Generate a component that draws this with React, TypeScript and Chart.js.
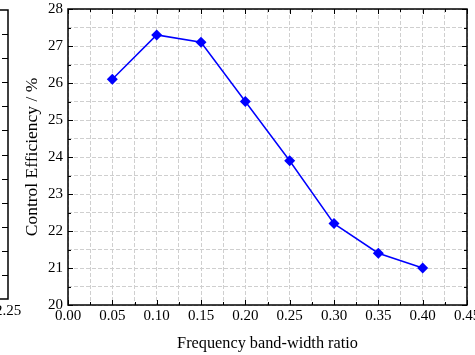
import React, { useEffect, useRef } from "react";
import { Chart, registerables } from "chart.js";

Chart.register(...registerables);

const ratios = [0.05, 0.1, 0.15, 0.2, 0.25, 0.3, 0.35, 0.4];
const efficiency = [26.1, 27.3, 27.1, 25.5, 23.9, 22.2, 21.4, 21.0];
const xTitle = "Frequency band-width ratio";
const yTitle = "Control Efficiency / %";
const fragmentLabel = "2.25";

const FONT = "'Liberation Serif', 'Times New Roman', serif";

const framePlugin = {
  id: "frame",
  beforeDraw(chart: any) {
    const ctx = chart.ctx;
    // neighbouring chart fragment on the left edge
    ctx.save();
    ctx.strokeStyle = "#000";
    ctx.lineWidth = 1.5;
    const top = 10;
    const bottom = 299;
    const x = 8;
    ctx.beginPath();
    ctx.moveTo(0, top);
    ctx.lineTo(x, top);
    ctx.lineTo(x, bottom);
    ctx.lineTo(0, bottom);
    ctx.stroke();
    ctx.lineWidth = 1;
    const step = (bottom - top) / 12;
    for (let k = 1; k < 12; k++) {
      const y = Math.round(top + step * k) + 0.5;
      ctx.beginPath();
      ctx.moveTo(2, y);
      ctx.lineTo(x, y);
      ctx.stroke();
    }
    ctx.fillStyle = "#000";
    ctx.font = `15px ${FONT}`;
    ctx.textAlign = "center";
    ctx.textBaseline = "middle";
    ctx.fillText(fragmentLabel, x, 311);
    ctx.restore();
  },
  afterDatasetsDraw(chart: any) {
    const { ctx, chartArea } = chart;
    const { left, right, top, bottom } = chartArea;
    ctx.save();
    ctx.strokeStyle = "#000";
    ctx.lineWidth = 1;
    const xs = chart.scales.x;
    xs.ticks.forEach((t: any) => {
      const px = Math.round(xs.getPixelForValue(t.value)) + 0.5;
      const major = Math.abs(Math.round(t.value * 1000) % 50) === 0;
      const len = major ? 5 : 3;
      ctx.beginPath();
      ctx.moveTo(px, bottom);
      ctx.lineTo(px, bottom - len);
      ctx.moveTo(px, top);
      ctx.lineTo(px, top + len);
      ctx.stroke();
    });
    const ys = chart.scales.y;
    ys.ticks.forEach((t: any) => {
      const py = Math.round(ys.getPixelForValue(t.value)) + 0.5;
      const major = Math.abs(t.value - Math.round(t.value)) < 1e-6;
      const len = major ? 5 : 3;
      ctx.beginPath();
      ctx.moveTo(left, py);
      ctx.lineTo(left + len, py);
      ctx.moveTo(right, py);
      ctx.lineTo(right - len, py);
      ctx.stroke();
    });
    ctx.lineWidth = 1.5;
    ctx.strokeRect(left, top, right - left, bottom - top);
    ctx.restore();
  },
};

export default function App() {
  const ref = useRef<HTMLCanvasElement>(null);
  useEffect(() => {
    document.body.style.margin = "0";
    const canvas = ref.current!;
    const chart = new Chart(canvas, {
      type: "line",
      data: {
        datasets: [
          {
            data: ratios.map((r, i) => ({ x: r, y: efficiency[i] })),
            borderColor: "#0000ff",
            backgroundColor: "#0000ff",
            borderWidth: 1.5,
            pointStyle: "rectRot",
            pointRadius: 5.5,
            pointBorderWidth: 0,
            tension: 0,
          },
        ],
      },
      options: {
        animation: false,
        responsive: false,
        maintainAspectRatio: false,
        layout: { padding: { left: 0, right: 8, top: 9, bottom: 0 } },
        plugins: {
          legend: { display: false },
          tooltip: { enabled: false },
        },
        scales: {
          x: {
            type: "linear",
            min: 0,
            max: 0.45,
            afterFit(scale: any) {
              scale.height = 50;
              scale.paddingLeft = 0;
              scale.paddingRight = 0;
            },
            ticks: {
              stepSize: 0.025,
              autoSkip: false,
              maxRotation: 0,
              padding: 2,
              color: "#000",
              font: { family: FONT, size: 15 },
              callback: (v: any) =>
                Math.abs(Math.round(Number(v) * 1000) % 50) === 0 ? Number(v).toFixed(2) : "",
            },
            grid: {
              drawTicks: false,
              color: "#cfcfcf",
              lineWidth: 1,
            },
            border: { display: false, dash: [4, 2] },
            title: {
              display: true,
              text: xTitle,
              color: "#000",
              font: { family: FONT, size: 16.3 },
              padding: { top: 0, bottom: 1.2 },
            },
          },
          y: {
            min: 20,
            max: 28,
            afterFit(scale: any) {
              scale.width = 68;
              scale.paddingTop = 0;
              scale.paddingBottom = 0;
            },
            ticks: {
              stepSize: 0.5,
              autoSkip: false,
              padding: 5,
              color: "#000",
              font: { family: FONT, size: 15 },
              callback: (v: any) =>
                Math.abs(Number(v) - Math.round(Number(v))) < 1e-6 ? String(Math.round(Number(v))) : "",
            },
            grid: {
              drawTicks: false,
              color: "#cfcfcf",
              lineWidth: 1,
            },
            border: { display: false, dash: [4, 2] },
            title: {
              display: true,
              text: yTitle,
              color: "#000",
              font: { family: FONT, size: 17.5 },
              padding: { top: 21.5, bottom: 0 },
            },
          },
        },
      },
      plugins: [framePlugin],
    });
    return () => chart.destroy();
  }, []);
  return <canvas ref={ref} width={475} height={355} style={{ display: "block" }} />;
}
